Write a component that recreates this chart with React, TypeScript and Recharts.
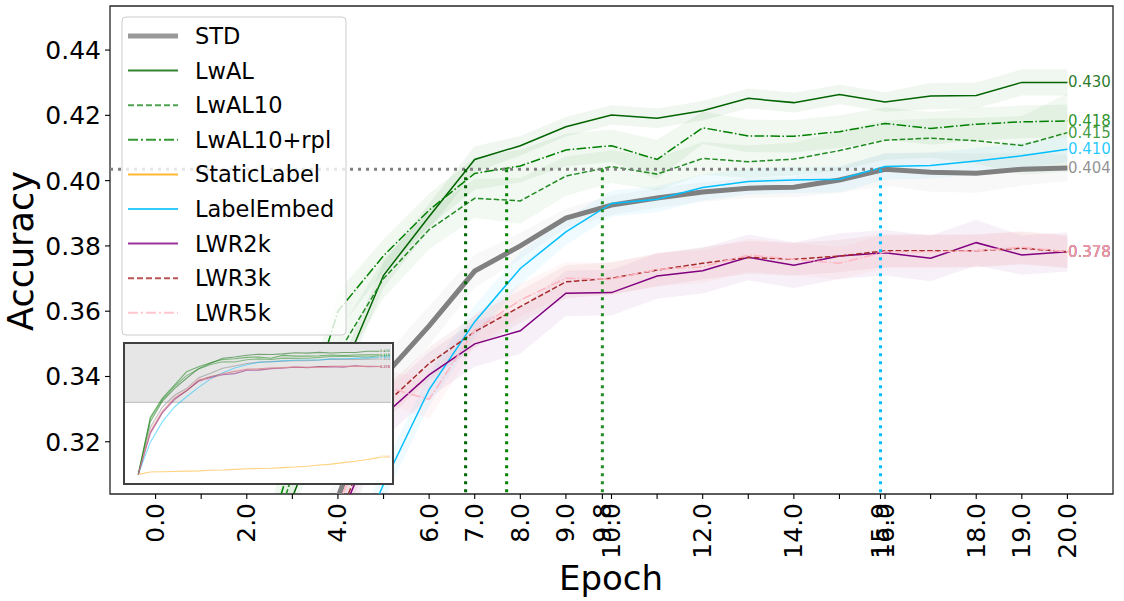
import React from "react";
import {
  ComposedChart,
  Line,
  Area,
  XAxis,
  YAxis,
  ReferenceLine,
  ReferenceArea,
} from "recharts";

// ---- data ----
const EPOCHS = [0, 1, 2, 3, 4, 5, 6, 7, 8, 9, 10, 11, 12, 13, 14, 15, 16, 17, 18, 19, 20];

const STD = [0.010, 0.170, 0.240, 0.280, 0.303, 0.340, 0.3555, 0.3723, 0.380, 0.3885, 0.3925, 0.3947, 0.3965, 0.3977, 0.398, 0.4002, 0.4035, 0.4026, 0.4023, 0.4035, 0.4039];
const LWAL = [0.010, 0.190, 0.260, 0.303, 0.338, 0.371, 0.389, 0.4065, 0.4107, 0.4165, 0.4201, 0.4191, 0.4214, 0.4252, 0.4239, 0.4264, 0.4241, 0.4259, 0.4261, 0.4301, 0.4301];
const LWAL10 = [0.010, 0.200, 0.265, 0.310, 0.347, 0.370, 0.385, 0.3946, 0.3938, 0.4014, 0.4043, 0.402, 0.4068, 0.4058, 0.4066, 0.4092, 0.4124, 0.413, 0.4122, 0.4108, 0.4147];
const LWAL10_RPL = [0.010, 0.205, 0.270, 0.315, 0.360, 0.377, 0.391, 0.4022, 0.4045, 0.4094, 0.4107, 0.4065, 0.4162, 0.4137, 0.4136, 0.415, 0.4175, 0.416, 0.4173, 0.418, 0.4183];
const STATIC_LABEL = [0.010, 0.018, 0.019, 0.020, 0.021, 0.022, 0.024, 0.025, 0.027, 0.029, 0.030, 0.031, 0.033, 0.035, 0.038, 0.042, 0.045, 0.050, 0.055, 0.061, 0.068];
const LABEL_EMBED = [0.010, 0.120, 0.190, 0.240, 0.275, 0.307, 0.336, 0.3568, 0.3731, 0.3843, 0.393, 0.3943, 0.3979, 0.3997, 0.4002, 0.4004, 0.4043, 0.4046, 0.406, 0.4076, 0.4096];
const LWR2K = [0.010, 0.150, 0.220, 0.265, 0.295, 0.328, 0.3405, 0.350, 0.354, 0.3655, 0.3657, 0.3708, 0.3724, 0.3765, 0.3741, 0.3769, 0.3779, 0.3762, 0.381, 0.3772, 0.3782];
const LWR3K = [0.010, 0.155, 0.225, 0.270, 0.296, 0.331, 0.344, 0.3537, 0.3614, 0.369, 0.3701, 0.3726, 0.3747, 0.3765, 0.3759, 0.3769, 0.3785, 0.3785, 0.3785, 0.3793, 0.3782];
const LWR5K = [0.010, 0.160, 0.228, 0.272, 0.300, 0.337, 0.333, 0.3542, 0.3634, 0.3701, 0.3698, 0.3728, 0.3736, 0.3772, 0.3759, 0.3747, 0.3782, 0.3782, 0.3785, 0.3796, 0.3782];

// half-width of the shaded band around each curve
const STD_SD = [0, 0.010, 0.008, 0.007, 0.006, 0.006, 0.006, 0.005, 0.004, 0.003, 0.003, 0.003, 0.003, 0.003, 0.003, 0.004, 0.005, 0.006, 0.006, 0.005, 0.004];
const LWAL_SD = [0, 0.008, 0.006, 0.005, 0.004, 0.004, 0.004, 0.004, 0.003, 0.003, 0.003, 0.003, 0.003, 0.003, 0.003, 0.003, 0.003, 0.004, 0.004, 0.004, 0.004];
const LWAL10_SD = [0, 0.010, 0.008, 0.007, 0.006, 0.006, 0.006, 0.006, 0.007, 0.006, 0.005, 0.005, 0.005, 0.005, 0.005, 0.006, 0.006, 0.006, 0.007, 0.009, 0.012];
const LWAL10_RPL_SD = [0, 0.010, 0.008, 0.007, 0.006, 0.005, 0.005, 0.005, 0.005, 0.005, 0.005, 0.006, 0.005, 0.005, 0.005, 0.005, 0.005, 0.005, 0.005, 0.005, 0.005];
const STATIC_LABEL_SD = [0, 0.002, 0.002, 0.002, 0.002, 0.002, 0.002, 0.002, 0.002, 0.002, 0.002, 0.002, 0.002, 0.002, 0.002, 0.002, 0.002, 0.002, 0.002, 0.002, 0.002];
const LABEL_EMBED_SD = [0, 0.010, 0.008, 0.007, 0.006, 0.005, 0.005, 0.005, 0.005, 0.004, 0.004, 0.004, 0.004, 0.004, 0.004, 0.004, 0.004, 0.004, 0.004, 0.004, 0.004];
const LWR2K_SD = [0, 0.010, 0.008, 0.007, 0.007, 0.007, 0.007, 0.007, 0.007, 0.007, 0.007, 0.007, 0.007, 0.007, 0.007, 0.007, 0.007, 0.007, 0.007, 0.006, 0.006];
const LWR3K_SD = [0, 0.008, 0.007, 0.006, 0.005, 0.005, 0.005, 0.005, 0.005, 0.005, 0.005, 0.005, 0.005, 0.005, 0.005, 0.005, 0.005, 0.005, 0.005, 0.005, 0.005];
const LWR5K_SD = [0, 0.008, 0.007, 0.006, 0.005, 0.005, 0.006, 0.005, 0.005, 0.005, 0.005, 0.005, 0.005, 0.005, 0.005, 0.005, 0.005, 0.005, 0.005, 0.005, 0.005];

// STD's final level and the epochs at which other methods reach it
const STD_LEVEL = 0.4035;
const REACH_EPOCHS = [6.8, 7.7, 9.8, 15.9];

const X_TICKS = [0, 1, 2, 3, 4, 5, 6, 7, 8, 9, 9.8, 10, 11, 12, 13, 14, 15, 15.9, 16, 17, 18, 19, 20];
const X_LABELED = [0, 2, 4, 6, 7, 8, 9, 9.8, 10, 12, 14, 15.9, 16, 18, 19, 20];
const Y_TICKS = [0.32, 0.34, 0.36, 0.38, 0.4, 0.42, 0.44];

const X_DOMAIN = [-1, 21];
const Y_DOMAIN = [0.304, 0.4535];
const INSET_X_DOMAIN = [-1.1, 20.95];
const INSET_Y_DOMAIN = [-0.016, 0.455];
const INSET_SHADE_FROM = 0.256;

const FONT = "DejaVu Sans, sans-serif";

const DASHED = "5.5 2.4";
const DASHDOT = "9.6 2.4 1.5 2.4";

const SERIES = [
  { key: "STD", name: "STD", values: STD, sd: STD_SD, color: "#808080", width: 5, dash: undefined },
  { key: "LwAL", name: "LwAL", values: LWAL, sd: LWAL_SD, color: "#006400", width: 1.5, dash: undefined },
  { key: "LwAL10", name: "LwAL10", values: LWAL10, sd: LWAL10_SD, color: "#228B22", width: 1.5, dash: DASHED },
  { key: "LwAL10rpl", name: "LwAL10+rpl", values: LWAL10_RPL, sd: LWAL10_RPL_SD, color: "#008000", width: 1.5, dash: DASHDOT },
  { key: "StaticLabel", name: "StaticLabel", values: STATIC_LABEL, sd: STATIC_LABEL_SD, color: "#FFA500", width: 1.5, dash: undefined },
  { key: "LabelEmbed", name: "LabelEmbed", values: LABEL_EMBED, sd: LABEL_EMBED_SD, color: "#00BFFF", width: 1.5, dash: undefined },
  { key: "LWR2k", name: "LWR2k", values: LWR2K, sd: LWR2K_SD, color: "#800080", width: 1.5, dash: undefined },
  { key: "LWR3k", name: "LWR3k", values: LWR3K, sd: LWR3K_SD, color: "#A52A2A", width: 1.5, dash: DASHED },
  { key: "LWR5k", name: "LWR5k", values: LWR5K, sd: LWR5K_SD, color: "#FFB6C1", width: 1.5, dash: DASHDOT },
];

const REACH_COLORS = ["#006400", "#008000", "#228B22", "#00BFFF"];

const rows = EPOCHS.map((epoch, i) => {
  const row: Record<string, any> = { epoch };
  SERIES.forEach((s) => {
    row[s.key] = s.values[i];
    row[s.key + "_band"] = [s.values[i] - s.sd[i], s.values[i] + s.sd[i]];
  });
  return row;
});

const LAST = EPOCHS.length - 1;

const endLabel =
  (color: string, size: number, minValue: number) =>
  (props: any) => {
    const { index, value } = props;
    if (index !== LAST || value == null || value < minValue) return null;
    const x = props.x ?? props.viewBox?.x;
    const y = props.y ?? props.viewBox?.y;
    return (
      <text
        x={x + 0.5}
        y={y}
        fill={color}
        fillOpacity={0.85}
        fontSize={size}
        fontFamily={FONT}
        dominantBaseline="central"
      >
        {Number(value).toFixed(3)}
      </text>
    );
  };

const XTick = (props: any) => {
  const { x, y, payload } = props;
  const v = payload.value;
  if (!X_LABELED.includes(v)) return null;
  return (
    <text
      x={x}
      y={y}
      transform={`rotate(-90 ${x} ${y})`}
      textAnchor="end"
      dominantBaseline="central"
      fontSize={25}
      fontFamily={FONT}
      fill="#000"
    >
      {v.toFixed(1)}
    </text>
  );
};

const YTitle = () => (
  <text
    x={33}
    y={251}
    transform="rotate(-90 33 251)"
    textAnchor="middle"
    fontSize={35}
    fontFamily={FONT}
    fill="#000"
  >
    Accuracy
  </text>
);

const XTitle = () => (
  <text x={611} y={590} textAnchor="middle" fontSize={34} fontFamily={FONT} fill="#000">
    Epoch
  </text>
);

const LegendBox = () => {
  const rowH = 34.6;
  return (
    <svg
      width={226}
      height={320}
      style={{ position: "absolute", left: 121, top: 16, pointerEvents: "none" }}
    >
      <rect x={1} y={1} width={224} height={318} rx={4} fill="#fff" fillOpacity={0.8} stroke="#cccccc" strokeWidth={1} />
      {SERIES.map((s, i) => {
        const cy = 20 + i * rowH;
        return (
          <g key={s.key}>
            <line
              x1={7}
              x2={57}
              y1={cy}
              y2={cy}
              stroke={s.color}
              strokeOpacity={0.8}
              strokeWidth={s.width === 5 ? 5 : 2}
              strokeDasharray={s.dash ? (s.dash === DASHED ? "6 3" : "10 3 2 3") : undefined}
            />
            <text x={74} y={cy} dominantBaseline="central" fontSize={22.5} fontFamily={FONT} fill="#000">
              {s.name}
            </text>
          </g>
        );
      })}
    </svg>
  );
};

const Inset = () => (
  <div
    style={{
      position: "absolute",
      left: 123,
      top: 342,
      width: 271,
      height: 143,
      boxSizing: "border-box",
      border: "2.5px solid #404040",
      background: "#fff",
    }}
  >
    <ComposedChart width={266} height={138} data={rows} margin={{ top: 0, right: 0, bottom: 0, left: 0 }}>
      <XAxis dataKey="epoch" type="number" domain={INSET_X_DOMAIN} hide allowDataOverflow />
      <YAxis type="number" domain={INSET_Y_DOMAIN} hide allowDataOverflow />
      <ReferenceArea
        x1={INSET_X_DOMAIN[0]}
        x2={INSET_X_DOMAIN[1]}
        y1={INSET_SHADE_FROM}
        y2={INSET_Y_DOMAIN[1]}
        fill="#e6e6e6"
        fillOpacity={1}
        stroke="none"
      />
      <ReferenceLine y={INSET_SHADE_FROM} stroke="#b8b8b8" strokeWidth={1} />
      {SERIES.map((s) => (
        <Line
          key={s.key}
          type="linear"
          dataKey={s.key}
          stroke={s.color}
          strokeOpacity={0.5}
          strokeWidth={1.1}
          dot={false}
          activeDot={false}
          isAnimationActive={false}
          label={endLabel(s.color, 3.5, -1)}
        />
      ))}
    </ComposedChart>
  </div>
);

export default function App() {
  return (
    <div style={{ position: "relative", width: 1124, height: 601, background: "#fff", fontFamily: FONT }}>
      <style>{"body{margin:0;background:#fff}"}</style>
      <ComposedChart width={1124} height={601} data={rows} margin={{ top: 6, right: 11, bottom: 0, left: 0 }}>
        <XAxis
          dataKey="epoch"
          type="number"
          domain={X_DOMAIN}
          ticks={X_TICKS}
          interval={0}
          allowDataOverflow
          axisLine={false}
          tickLine={{ stroke: "#000", strokeWidth: 1.1 }}
          tickSize={5}
          tickMargin={4}
          tick={<XTick />}
          height={107}
          label={<XTitle />}
        />
        <YAxis
          type="number"
          domain={Y_DOMAIN}
          ticks={Y_TICKS}
          interval={0}
          allowDataOverflow
          axisLine={false}
          tickLine={{ stroke: "#000", strokeWidth: 1.1 }}
          tickSize={5}
          tickMargin={4}
          width={110}
          tickFormatter={(v: number) => v.toFixed(2)}
          tick={{ fontSize: 25, fill: "#000", fontFamily: FONT }}
          label={<YTitle />}
        />
        {SERIES.map((s) => (
          <Area
            key={s.key + "_band"}
            type="linear"
            dataKey={s.key + "_band"}
            stroke="none"
            fill={s.color}
            fillOpacity={s.key === "LWR5k" ? 0.12 : 0.06}
            dot={false}
            activeDot={false}
            isAnimationActive={false}
          />
        ))}
        {SERIES.map((s) => (
          <Line
            key={s.key}
            type="linear"
            dataKey={s.key}
            stroke={s.color}
            strokeWidth={s.width}
            strokeDasharray={s.dash}
            dot={false}
            activeDot={false}
            isAnimationActive={false}
            label={endLabel(s.color, 15, Y_DOMAIN[0])}
          />
        ))}
        <ReferenceLine
          segment={[
            { x: X_DOMAIN[0], y: STD_LEVEL },
            { x: REACH_EPOCHS[3], y: STD_LEVEL },
          ]}
          stroke="#808080"
          strokeWidth={3}
          strokeDasharray="3 5"
        />
        {REACH_EPOCHS.map((e, i) => (
          <ReferenceLine
            key={"reach" + i}
            segment={[
              { x: e, y: STD_LEVEL },
              { x: e, y: Y_DOMAIN[0] },
            ]}
            stroke={REACH_COLORS[i]}
            strokeWidth={3}
            strokeDasharray="3 5"
          />
        ))}
        <ReferenceArea
          x1={X_DOMAIN[0]}
          x2={X_DOMAIN[1]}
          y1={Y_DOMAIN[0]}
          y2={Y_DOMAIN[1]}
          fill="none"
          stroke="#262626"
          strokeWidth={1.3}
        />
      </ComposedChart>
      <LegendBox />
      <Inset />
    </div>
  );
}
